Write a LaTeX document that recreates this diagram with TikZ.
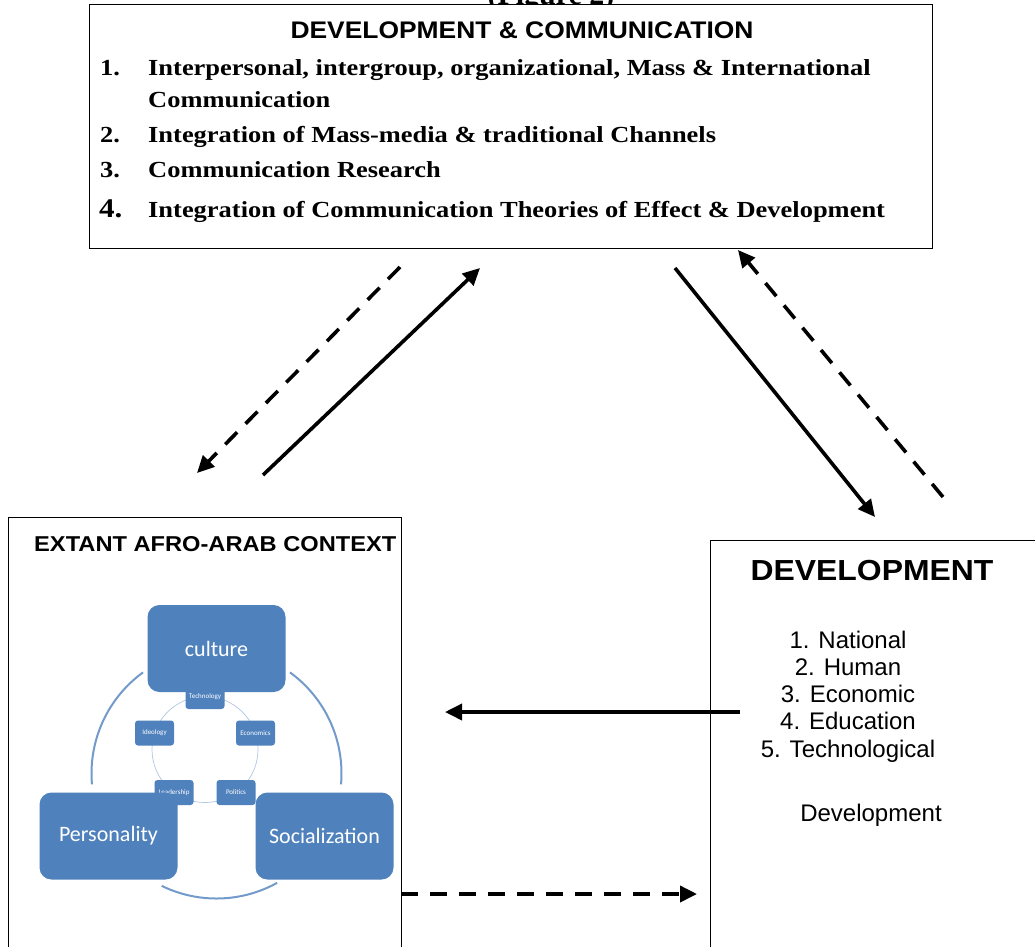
\documentclass[tikz,border=0pt]{standalone}
\usepackage{fontspec}
\setmainfont{Liberation Serif}
\setsansfont{Liberation Sans}
\newfontfamily\listfont{Liberation Serif}[FakeStretch=1.15]
\newfontfamily\headfont{Liberation Sans}[FakeStretch=1.1]
\newfontfamily\smartfont{Carlito}
\usetikzlibrary{arrows.meta,positioning}

\definecolor{smartblue}{HTML}{4F81BD}

\tikzset{
  panel/.style={draw=black, line width=1.4pt, fill=white, anchor=north west, inner sep=0pt},
  listitem/.style={anchor=base west, inner sep=0pt, font=\listfont\bfseries\fontsize{23}{28}\selectfont},
  bigcell/.style={fill=smartblue, rounded corners=12pt, minimum width=138pt, minimum height=87pt,
    text=white, font=\smartfont\fontsize{22}{26}\selectfont},
  smallcell/.style={fill=smartblue, rounded corners=3pt, minimum width=39pt, minimum height=25pt,
    inner sep=0pt, text=white, font=\smartfont\fontsize{7}{8}\selectfont},
  ring/.style={draw=smartblue!80, line width=2pt},
  innerring/.style={draw=smartblue!45, line width=0.7pt},
  flow/.style={line width=3.6pt, -{Triangle[length=17pt,width=16pt]}},
  backflow/.style={flow, dash pattern=on 17pt off 12pt},
}

\begin{document}
\begin{tikzpicture}[x=1pt,y=1pt]
\useasboundingbox (0,0) rectangle (1035,-946);
\clip (0,0) rectangle (1035,-946);

% caption, mostly hidden by the top box
\node[anchor=base, inner sep=0pt, font=\bfseries\fontsize{30}{34}\selectfont] (caption) at (551,-4) {(Figure 2)};

% top box
\node[panel, minimum width=843pt, minimum height=244pt] (devcom) at (89,-4) {};
\node[anchor=base, inner sep=0pt, font=\headfont\bfseries\fontsize{24}{28}\selectfont] (devcomtitle) at (522,-38) {DEVELOPMENT \& COMMUNICATION};
\node[listitem] (num1) at (100,-75) {1.};
\node[listitem] (item1) at (148,-75) {Interpersonal, intergroup, organizational, Mass \& International};
\node[listitem] (item1b) at (148,-107) {Communication};
\node[listitem] (num2) at (100,-142) {2.};
\node[listitem] (item2) at (148,-142) {Integration of Mass-media \& traditional Channels};
\node[listitem] (num3) at (100,-177) {3.};
\node[listitem] (item3) at (148,-177) {Communication Research};
\node[listitem, font=\listfont\bfseries\fontsize{27}{30}\selectfont] (num4) at (99,-217) {4.};
\node[listitem] (item4) at (148,-217) {Integration of Communication Theories of Effect \& Development};

% left box
\node[panel, minimum width=393pt, minimum height=460pt] (context) at (8,-517) {};
\node[anchor=base west, inner sep=0pt, font=\headfont\bfseries\fontsize{21.5}{25}\selectfont] (contexttitle) at (34,-551) {EXTANT AFRO-ARAB CONTEXT};

% cycle inside the left box
\coordinate (hub) at (216.5,-773.5);
\draw[ring] (hub) ++(126:125) arc[start angle=126, end angle=185, radius=125];
\draw[ring] (hub) ++(244:125) arc[start angle=244, end angle=299, radius=125];
\draw[ring] (hub) ++(-5:125) arc[start angle=-5, end angle=54, radius=125];
\node[bigcell] (culture) at (216.5,-648.5) {culture};
\draw[innerring] (205,-749.5) circle[radius=53];
\node[smallcell] (technology) at (205,-696.5) {Technology};
\node[smallcell] (ideology) at (154.5,-733) {Ideology};
\node[smallcell] (economics) at (255.5,-733) {Economics};
\node[smallcell] (leadership) at (174,-792.5) {Leadership};
\node[smallcell] (politics) at (236,-792.5) {Politics};
\node[bigcell] (personality) at (108.5,-836) {Personality};
\node[bigcell] (socialization) at (324.5,-836) {Socialization};

% right box
\node[panel, minimum width=400pt, minimum height=460pt] (dev) at (710,-540) {};
\node[anchor=base, inner sep=0pt, font=\headfont\bfseries\fontsize{29}{33}\selectfont] (devtitle) at (872,-580) {DEVELOPMENT};
\foreach \kind [count=\i] in {National, Human, Economic, Education, Technological}
  \node[anchor=base, inner sep=0pt, font=\sffamily\fontsize{24}{27}\selectfont] (kind\i) at (848,{-648-27.3*(\i-1)}) {\i. \kind};
\node[anchor=base, inner sep=0pt, font=\sffamily\fontsize{24}{27}\selectfont] (devnote) at (871,-821) {Development};

% arrow ends
\coordinate (a1s) at (400,-267);  \coordinate (a1e) at (197,-473);
\coordinate (a2s) at (263,-475);  \coordinate (a2e) at (480,-268);
\coordinate (a3s) at (675,-268);  \coordinate (a3e) at (875,-517);
\coordinate (a4s) at (943,-497);  \coordinate (a4e) at (738,-250);
\coordinate (a5s) at (740,-712);  \coordinate (a5e) at (445,-712);
\coordinate (a6s) at (401,-894);  \coordinate (a6e) at (697,-894);

\draw[backflow] (a1s) -- (a1e);
\draw[flow] (a2s) -- (a2e);
\draw[flow] (a3s) -- (a3e);
\draw[backflow] (a4s) -- (a4e);
\draw[flow] (a5s) -- (a5e);
\draw[backflow] (a6s) -- (a6e);
\end{tikzpicture}
\end{document}
